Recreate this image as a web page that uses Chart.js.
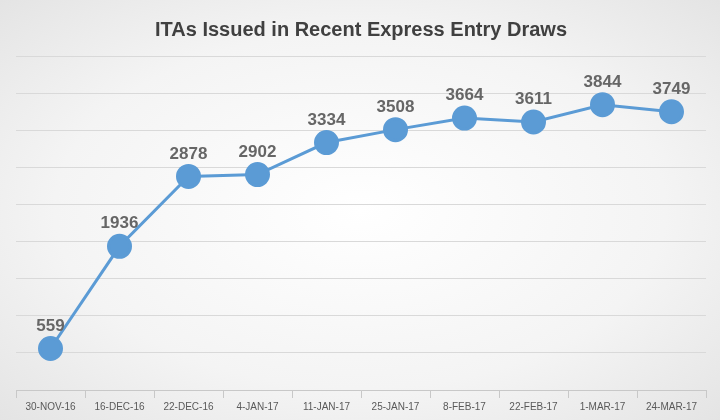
<!DOCTYPE html>
<html lang="en">
<head>
  <meta charset="UTF-8" />
  <title>ITAs Issued</title>
  <script src="https://cdn.jsdelivr.net/npm/chart.js"></script>
  <style>
    html, body { margin: 0; padding: 0; }
    body { width: 720px; height: 420px; background: radial-gradient(ellipse at center, #ffffff 0%, #f4f4f4 60%, #e4e4e4 100%); }
    #wrap { width: 720px; height: 420px; }
  </style>
</head>
<body>
  <div id="wrap"><canvas id="c"></canvas></div>
  <script>
    const drawDates = ["30-NOV-16", "16-DEC-16", "22-DEC-16", "4-JAN-17", "11-JAN-17", "25-JAN-17", "8-FEB-17", "22-FEB-17", "1-MAR-17", "24-MAR-17"];
    const itasIssued = [559, 1936, 2878, 2902, 3334, 3508, 3664, 3611, 3844, 3749];

    // labels above the points
    const pointLabels = {
      id: "pointLabels",
      afterDatasetsDraw(chart) {
        const ctx = chart.ctx;
        const meta = chart.getDatasetMeta(0);
        ctx.save();
        ctx.font = "bold 17px 'Liberation Sans', Arial, sans-serif";
        ctx.fillStyle = "#666666";
        ctx.textAlign = "center";
        ctx.textBaseline = "bottom";
        meta.data.forEach((pt, i) => {
          ctx.fillText(itasIssued[i], pt.x, pt.y - 14);
        });
        ctx.restore();
      }
    };

    new Chart(document.getElementById("c"), {
      type: "line",
      data: {
        labels: drawDates,
        datasets: [{
          data: itasIssued,
          borderColor: "#5B9BD5",
          borderWidth: 3,
          pointBackgroundColor: "#5B9BD5",
          pointBorderColor: "#5B9BD5",
          pointRadius: 11,
          tension: 0
        }]
      },
      options: {
        responsive: true,
        maintainAspectRatio: false,
        animation: false,
        layout: { padding: { left: 16, right: 14, top: 4, bottom: 4 } },
        plugins: {
          legend: { display: false },
          tooltip: { enabled: false },
          title: {
            display: true,
            text: "ITAs Issued in Recent Express Entry Draws",
            color: "#404040",
            font: { family: "'Liberation Sans', Arial, sans-serif", size: 20, weight: "bold" },
            padding: { top: 14, bottom: 14 }
          }
        },
        scales: {
          x: {
            offset: true,
            grid: { offset: true, drawOnChartArea: false, drawTicks: true, tickLength: 8, color: "#c8c8c8" },
            border: { color: "#c8c8c8" },
            ticks: { color: "#595959", font: { family: "'Liberation Sans', Arial, sans-serif", size: 10 }, maxRotation: 0, autoSkip: false }
          },
          y: {
            min: 0,
            max: 4500,
            ticks: { display: false, stepSize: 500 },
            grid: { color: "#d9d9d9", drawTicks: false },
            border: { display: false }
          }
        }
      },
      plugins: [pointLabels]
    });
  </script>
</body>
</html>
